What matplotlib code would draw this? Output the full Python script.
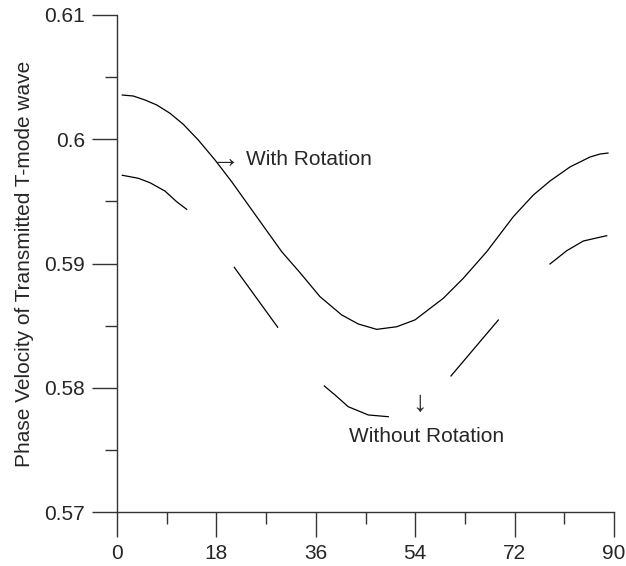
import numpy as np
import matplotlib
matplotlib.use("Agg")
import matplotlib.pyplot as plt
from matplotlib.ticker import MultipleLocator

plt.rcParams['font.family'] = ['Liberation Sans', 'DejaVu Sans']

# With Rotation curve
with_x = [0.96, 2.95, 5.07, 7.19, 9.60, 12.01, 14.72, 17.75, 20.77, 23.78, 26.80,
          29.83, 33.14, 36.76, 40.69, 43.70, 47.03, 50.65, 53.96, 59.09, 62.71,
          66.95, 71.77, 75.39, 78.41, 82.03, 85.65, 87.46, 88.91]
with_y = [0.60356, 0.60348, 0.60316, 0.60276, 0.60209, 0.60120, 0.59994, 0.59833,
          0.59658, 0.59471, 0.59283, 0.59095, 0.58926, 0.58733, 0.58586, 0.58513,
          0.58470, 0.58491, 0.58546, 0.58720, 0.58881, 0.59095, 0.59377, 0.59551,
          0.59664, 0.59777, 0.59857, 0.59881, 0.59889]

# Without Rotation curve: drawn as long dashes (visible pieces only)
without_segments_x = [
    [0.96, 3.86, 5.98, 8.69, 10.81, 12.62],
    [21.24, 29.10],
    [37.54, 39.48, 41.89, 45.51, 49.13],
    [60.48, 69.05],
    [78.41, 81.44, 84.44, 88.68],
]
without_segments_y = [
    [0.59710, 0.59686, 0.59650, 0.59583, 0.59497, 0.59436],
    [0.58969, 0.58487],
    [0.58014, 0.57942, 0.57847, 0.57781, 0.57767],
    [0.58095, 0.58545],
    [0.58996, 0.59103, 0.59181, 0.59224],
]

x_major = [0, 18, 36, 54, 72, 90]
y_major = [0.57, 0.58, 0.59, 0.6, 0.61]
y_labels = ['0.57', '0.58', '0.59', '0.6', '0.61']

txt_color = '#262626'
fig = plt.figure(figsize=(6.26, 5.66), dpi=100)
ax = fig.add_axes([117/626, 1 - 512/566, (614 - 117)/626, (512 - 15)/566])

ax.plot(with_x, with_y, color='black', lw=0.9)
for sx, sy in zip(without_segments_x, without_segments_y):
    ax.plot(sx, sy, color='black', lw=0.9)

ax.set_xlim(0, 90)
ax.set_ylim(0.57, 0.61)
ax.set_xticks(x_major)
ax.set_xticklabels([str(v) for v in x_major])
ax.set_yticks(y_major)
ax.set_yticklabels(y_labels)
ax.xaxis.set_minor_locator(MultipleLocator(9))
ax.yaxis.set_minor_locator(MultipleLocator(0.005))

for s in ['top', 'right']:
    ax.spines[s].set_visible(False)
for s in ['left', 'bottom']:
    ax.spines[s].set_color('#333333')
    ax.spines[s].set_linewidth(1.0)

ax.tick_params(which='major', length=18, width=1.0, color='#333333',
               labelsize=15, labelcolor=txt_color, pad=5, direction='out')
ax.tick_params(which='minor', length=8.6, width=1.0, color='#333333', direction='out')

ax.set_ylabel('Phase Velocity of Transmitted T-mode wave', fontsize=15,
              color=txt_color, labelpad=7.5)

ax.text(19.6, 0.59841, '\u2192', fontsize=21, color=txt_color, ha='center', va='center',
        family=['Liberation Sans', 'DejaVu Sans'])
ax.text(23.4, 0.59841, 'With Rotation', fontsize=15, color=txt_color, ha='left', va='center')
ax.text(54.7, 0.57877, '\u2193', fontsize=21, color=txt_color, ha='center', va='center',
        family=['Liberation Sans', 'DejaVu Sans'])
ax.text(56.0, 0.57604, 'Without Rotation', fontsize=15, color=txt_color, ha='center', va='center')

fig.savefig('out.png', dpi=100)
